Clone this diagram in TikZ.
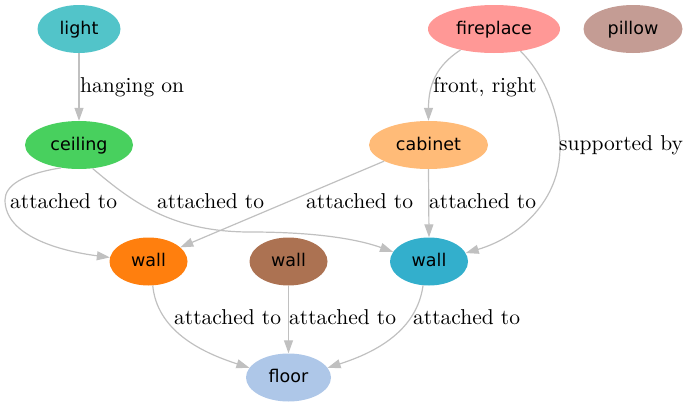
\documentclass[tikz,border=0pt]{standalone}
\usepackage{fontspec}
\newfontfamily\nodefont{DejaVu Sans}
\newfontfamily\lblfont{lmroman10-regular}[Extension=.otf]
\usetikzlibrary{shapes.geometric,arrows.meta}
\definecolor{cLight}{RGB}{82,196,201}
\definecolor{cCeiling}{RGB}{72,208,94}
\definecolor{cFire}{RGB}{255,152,150}
\definecolor{cPillow}{RGB}{196,156,148}
\definecolor{cCab}{RGB}{255,187,120}
\definecolor{cOrange}{RGB}{255,127,14}
\definecolor{cBrown}{RGB}{172,114,82}
\definecolor{cBlue}{RGB}{51,175,204}
\definecolor{cFloor}{RGB}{174,199,232}
\definecolor{cEdge}{RGB}{192,192,192}
\begin{document}
\begin{tikzpicture}[x=1pt,y=-1pt,
  obj/.style={ellipse, draw=none, minimum height=48pt, inner sep=0pt,
    text height=13pt, text depth=3pt,
    font=\nodefont\fontsize{17.5}{20}\selectfont},
  rel/.style={draw=cEdge, line width=1.2pt, -{Triangle[length=13pt,width=9pt]}},
  lbl/.style={anchor=base west, inner sep=0pt, font=\lblfont\fontsize{21.5}{24}\selectfont},
]
\useasboundingbox (0,0) rectangle (691,407);

% nodes
\node[obj, fill=cLight,   minimum width=83pt]  (light)     at (79,29)    {light};
\node[obj, fill=cFire,    minimum width=132pt] (fireplace) at (494,29)   {fireplace};
\node[obj, fill=cPillow,  minimum width=99pt]  (pillow)    at (633,29)   {pillow};
\node[obj, fill=cCeiling, minimum width=108pt] (ceiling)   at (79,145)   {ceiling};
\node[obj, fill=cCab,     minimum width=119pt] (cabinet)   at (428.5,145){cabinet};
\node[obj, fill=cOrange,  minimum width=78pt]  (wall1)     at (148.5,261.5) {wall};
\node[obj, fill=cBrown,   minimum width=78pt]  (wall2)     at (288.5,261.5) {wall};
\node[obj, fill=cBlue,    minimum width=78pt]  (wall3)     at (429,261.5)   {wall};
\node[obj, fill=cFloor,   minimum width=85pt]  (floor)     at (288.5,377.5) {floor};

% edges
\draw[rel] (light.south) -- (ceiling.north);
\draw[rel] (fireplace.212) .. controls (436,66) and (428.5,85) .. (cabinet.north);
\draw[rel] (fireplace.320) .. controls (545,75) and (560,115) .. (560,148)
           .. controls (560,200) and (520,237) .. (wall3.13);
\draw[rel] (ceiling.232) .. controls (22,174) and (5,186) .. (5,200)
           .. controls (5,236) and (60,251) .. (wall1.174);
\draw[rel] (ceiling.300) .. controls (130,200) and (170,232) .. (250,232)
           .. controls (320,232) and (360,240) .. (wall3.165);
\draw[rel] (cabinet.200) -- (wall1.24);
\draw[rel] (cabinet.south) -- (wall3.north);
\draw[rel] (wall1.280) .. controls (157,330) and (200,352) .. (floor.166);
\draw[rel] (wall2.south) -- (floor.north);
\draw[rel] (wall3.256) .. controls (417,330) and (377,352) .. (floor.14);

% labels
\node[lbl] (l1)  at (80,92)   {hanging on};
\node[lbl] (l2)  at (433,92)  {front, right};
\node[lbl] (l3)  at (559,150) {supported by};
\node[lbl] (l4)  at (10,208)  {attached to};
\node[lbl] (l5)  at (157,208) {attached to};
\node[lbl] (l6)  at (306,208) {attached to};
\node[lbl] (l7)  at (429,208) {attached to};
\node[lbl] (l8)  at (174,324) {attached to};
\node[lbl] (l9)  at (289,324) {attached to};
\node[lbl] (l10) at (413,324) {attached to};
\end{tikzpicture}
\end{document}
